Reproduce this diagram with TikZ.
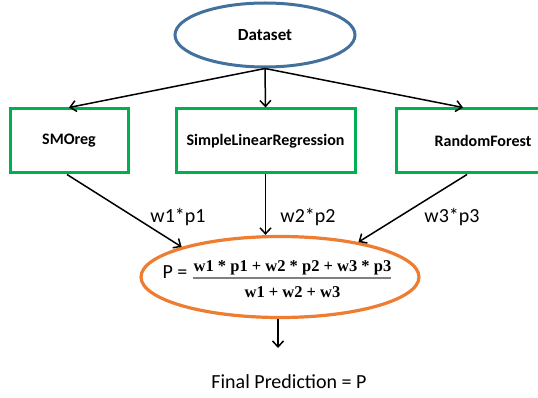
\documentclass[tikz,border=0pt]{standalone}
\usepackage{fontspec}
\setmainfont{Carlito}
\newfontfamily\formulafont{Liberation Serif}
\usetikzlibrary{shapes.geometric,arrows.meta}
\definecolor{dsblue}{RGB}{65,113,156}
\definecolor{boxgreen}{RGB}{0,176,80}
\definecolor{resorange}{RGB}{237,125,49}
\definecolor{bargray}{RGB}{128,128,128}
\tikzset{
  arr/.style={draw=black, line width=1.5pt, -{Straight Barb[length=6pt,width=11pt,line width=1.5pt]}},
  modelbox/.style={draw=boxgreen, line width=3pt, rectangle, minimum height=64pt,
    inner sep=0pt, font=\fontsize{16}{18}\selectfont\bfseries},
  wlabel/.style={font=\fontsize{20}{22}\selectfont, inner sep=0pt},
  formula/.style={font=\fontsize{16.5}{18}\selectfont\formulafont\bfseries, inner sep=0pt, anchor=base}
}
\begin{document}
\begin{tikzpicture}[x=1pt, y=-1pt]
\useasboundingbox (0,0) rectangle (538,398);
\clip (0,0) rectangle (538,398);
\fill[white] (0,0) rectangle (538,398);

% source data
\node[ellipse, draw=dsblue, line width=3pt, minimum width=180pt, minimum height=64pt,
  inner sep=0pt, font=\fontsize{17}{19}\selectfont\bfseries] (ds) at (265,35) {Dataset};

% the three base models
\node[modelbox, minimum width=118pt] (smo) at (69,141) {SMOreg};
\node[modelbox, minimum width=179pt] (slr) at (265.5,141) {SimpleLinearRegression};
\node[modelbox, minimum width=174pt] (rf) at (483,141) {RandomForest};

% weighted combination
\node[ellipse, draw=resorange, line width=3.2pt, minimum width=278pt, minimum height=81pt,
  inner sep=0pt] (res) at (280,277) {};
\node[wlabel, anchor=base] (peq) at (175,278) {P =};
\node[formula] (num) at (292.5,271) {w1 * p1 + w2 * p2 + w3 * p3};
\node[formula] (den) at (292.5,297) {w1 + w2 + w3};
\draw[bargray, line width=1.6pt] (num.base west |- 0,278) ++(-1,0) coordinate (barl)
  -- (num.base east |- 0,278) ++(3,0);

% dataset to models
\draw[arr] (ds.south) -- (smo.north);
\draw[arr] (ds.south) -- (slr.north);
\draw[arr] (ds.south) -- ([xshift=-20pt]rf.north);

% models to combination
\draw[arr] ([xshift=-2pt]smo.south) -- (res.163.7);
\draw[arr] (slr.south) -- (slr.south |- res.north);
\draw[arr] ([xshift=-16pt]rf.south) -- (res.24.4);

\node[wlabel] (w1) at (178,217) {w1*p1};
\node[wlabel] (w2) at (308,217) {w2*p2};
\node[wlabel] (w3) at (452,217) {w3*p3};

% output
\coordinate (fpin) at (278,348);
\node[wlabel] (fp) at (289,382) {Final Prediction = P};
\draw[arr] (res.south -| fpin) -- (fpin);
\end{tikzpicture}
\end{document}
